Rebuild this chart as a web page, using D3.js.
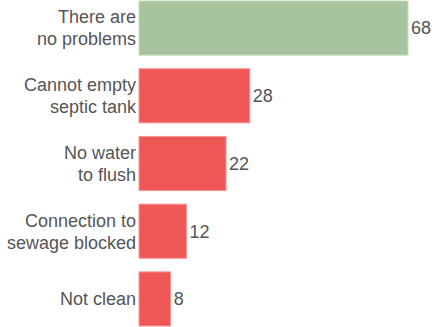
<!DOCTYPE html>
<html>
<head>
<meta charset="UTF-8">
<script src="https://cdnjs.cloudflare.com/ajax/libs/d3/7.8.5/d3.min.js"></script>
<style>
  body { margin: 0; background: #fff; }
  text { font-family: "Liberation Sans", Arial, sans-serif; fill: #555; }
</style>
</head>
<body>
<svg id="chart" width="432" height="327"></svg>
<script>
// data
const categories = [
  ["There are", "no problems"],
  ["Cannot empty", "septic tank"],
  ["No water", "to flush"],
  ["Connection to", "sewage blocked"],
  ["Not clean"]
];
const values = [68, 28, 22, 12, 8];
const barColors = ["#a8c49f", "#ef5757", "#ef5757", "#ef5757", "#ef5757"];
const strokeColors = ["#c8dcc2", "#f59a9a", "#f59a9a", "#f59a9a", "#f59a9a"];

const svg = d3.select("#chart");
const x0 = 139;

const x = d3.scaleLinear().domain([0, 68]).range([x0, 408]);
const y = d3.scaleBand().domain(d3.range(values.length)).range([1, 326]).paddingInner(0.2);

svg.selectAll("rect")
  .data(values)
  .join("rect")
  .attr("x", x(0))
  .attr("y", (d, i) => y(i))
  .attr("width", d => x(d) - x(0))
  .attr("height", y.bandwidth())
  .attr("fill", (d, i) => barColors[i])
  .attr("stroke", (d, i) => strokeColors[i])
  .attr("stroke-width", 1);

// value labels
svg.selectAll("text.val")
  .data(values)
  .join("text")
  .attr("class", "val")
  .attr("x", d => x(d) + 3)
  .attr("y", (d, i) => y(i) + y.bandwidth() / 2)
  .attr("dy", "0.35em")
  .attr("font-size", 18)
  .text(d => d);

// category labels
const lh = 22;
svg.selectAll("text.cat")
  .data(categories)
  .join("text")
  .attr("class", "cat")
  .attr("text-anchor", "end")
  .attr("font-size", 18)
  .each(function (lines, i) {
    const mid = y(i) + y.bandwidth() / 2;
    const t = d3.select(this);
    lines.forEach((ln, k) => {
      t.append("tspan")
        .attr("x", x0 - 3)
        .attr("y", mid + (k - (lines.length - 1) / 2) * lh)
        .attr("dy", "0.35em")
        .text(ln);
    });
  });
</script>
</body>
</html>
